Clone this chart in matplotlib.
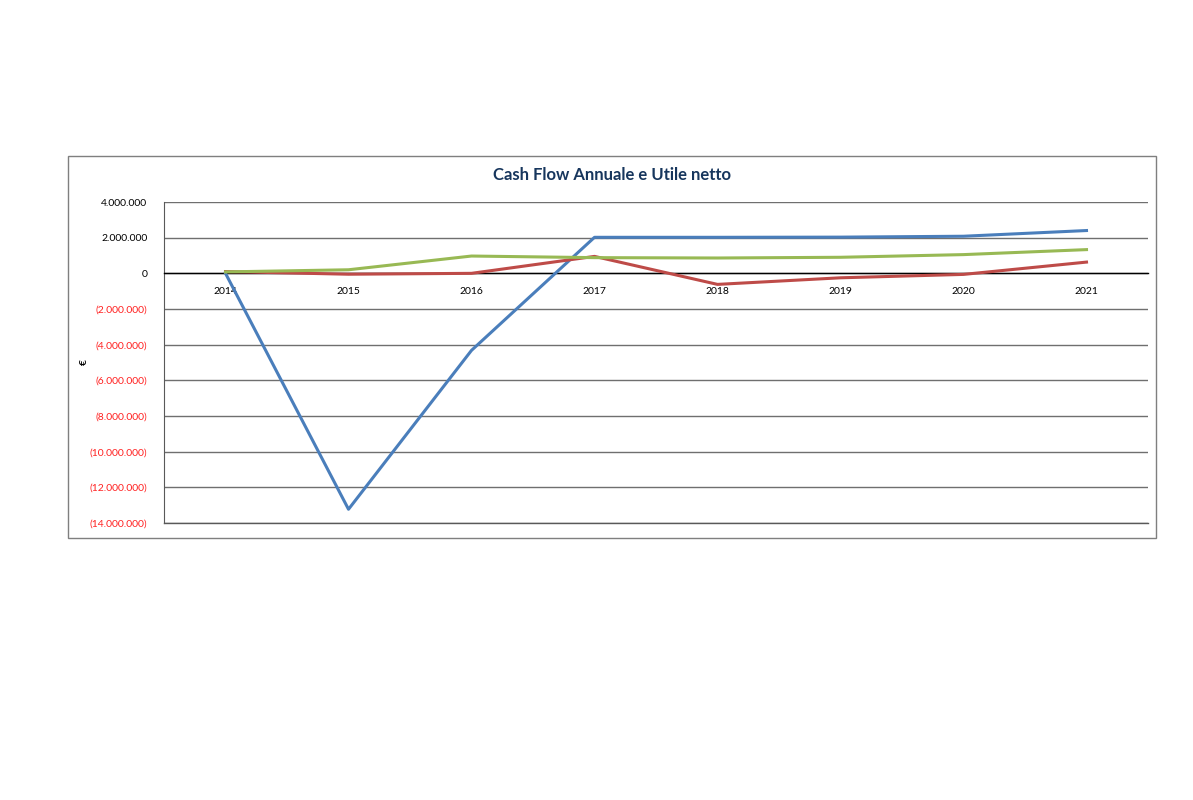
import matplotlib
matplotlib.use("Agg")
import matplotlib.pyplot as plt
from matplotlib.patches import Rectangle
from matplotlib.ticker import FuncFormatter, MultipleLocator

years = ["2014", "2015", "2016", "2017", "2018", "2019", "2020", "2021"]
cash_flow = [0, -13230000, -4320000, 2020000, 2020000, 2030000, 2080000, 2400000]
utile_red = [100000, -50000, 0, 950000, -620000, -250000, -60000, 630000]
utile_green = [80000, 200000, 970000, 880000, 860000, 900000, 1050000, 1330000]

blue = "#4A7EBB"
red = "#BE4B48"
green = "#98B954"

plt.rcParams['font.family'] = ['Lato', 'DejaVu Sans']

fig = plt.figure(figsize=(11.93, 8.0), dpi=100)
W, H = 1193, 800

# chart frame
fig.patches.append(Rectangle((68 / W, 1 - 538 / H), (1156 - 68) / W, (538 - 156) / H,
                             transform=fig.transFigure, fill=False,
                             edgecolor="#7f7f7f", linewidth=1.0))

ax = fig.add_axes([164 / W, 1 - 523 / H, (1148 - 164) / W, (523 - 202) / H])
x = list(range(len(years)))
ax.plot(x, cash_flow, color=blue, linewidth=2.2, zorder=3)
ax.plot(x, utile_red, color=red, linewidth=2.2, zorder=3)
ax.plot(x, utile_green, color=green, linewidth=2.2, zorder=4)

ax.set_xlim(-0.5, len(years) - 0.5)
ax.set_ylim(-14000000, 4000000)
ax.yaxis.set_major_locator(MultipleLocator(2000000))
ax.grid(axis="y", color="#6f6f6f", linewidth=1.0, zorder=1)
ax.set_axisbelow(True)

for s in ["top", "right"]:
    ax.spines[s].set_visible(False)
ax.spines["left"].set_color("#595959")
ax.spines["bottom"].set_position(("data", 0))
ax.spines["bottom"].set_color("black")
ax.spines["bottom"].set_linewidth(1.0)
ax.axhline(-14000000, color="#595959", linewidth=1.0, clip_on=False)

def fmt(v, pos):
    s = "{:,.0f}".format(abs(v)).replace(",", ".")
    return "(" + s + ")" if v < 0 else s

ax.yaxis.set_major_formatter(FuncFormatter(fmt))
ax.tick_params(axis="y", length=0, labelsize=7.5, pad=12)

ax.set_xticks(x)
ax.set_xticklabels(years)
ax.tick_params(axis="x", length=0, labelsize=7.5, pad=10)

fig.canvas.draw()
for lbl in ax.get_yticklabels():
    if lbl.get_text().startswith("("):
        lbl.set_color("#FF2020")

fig.text(84 / W, 1 - 362 / H, "€", rotation=90, fontsize=7.5, fontweight="bold",
         ha="center", va="center")
fig.text(612 / W, 1 - 175 / H, "Cash Flow Annuale e Utile netto", fontsize=12,
         fontweight="bold", color="#17365D", ha="center", va="center")

fig.savefig("out.png", dpi=100)
